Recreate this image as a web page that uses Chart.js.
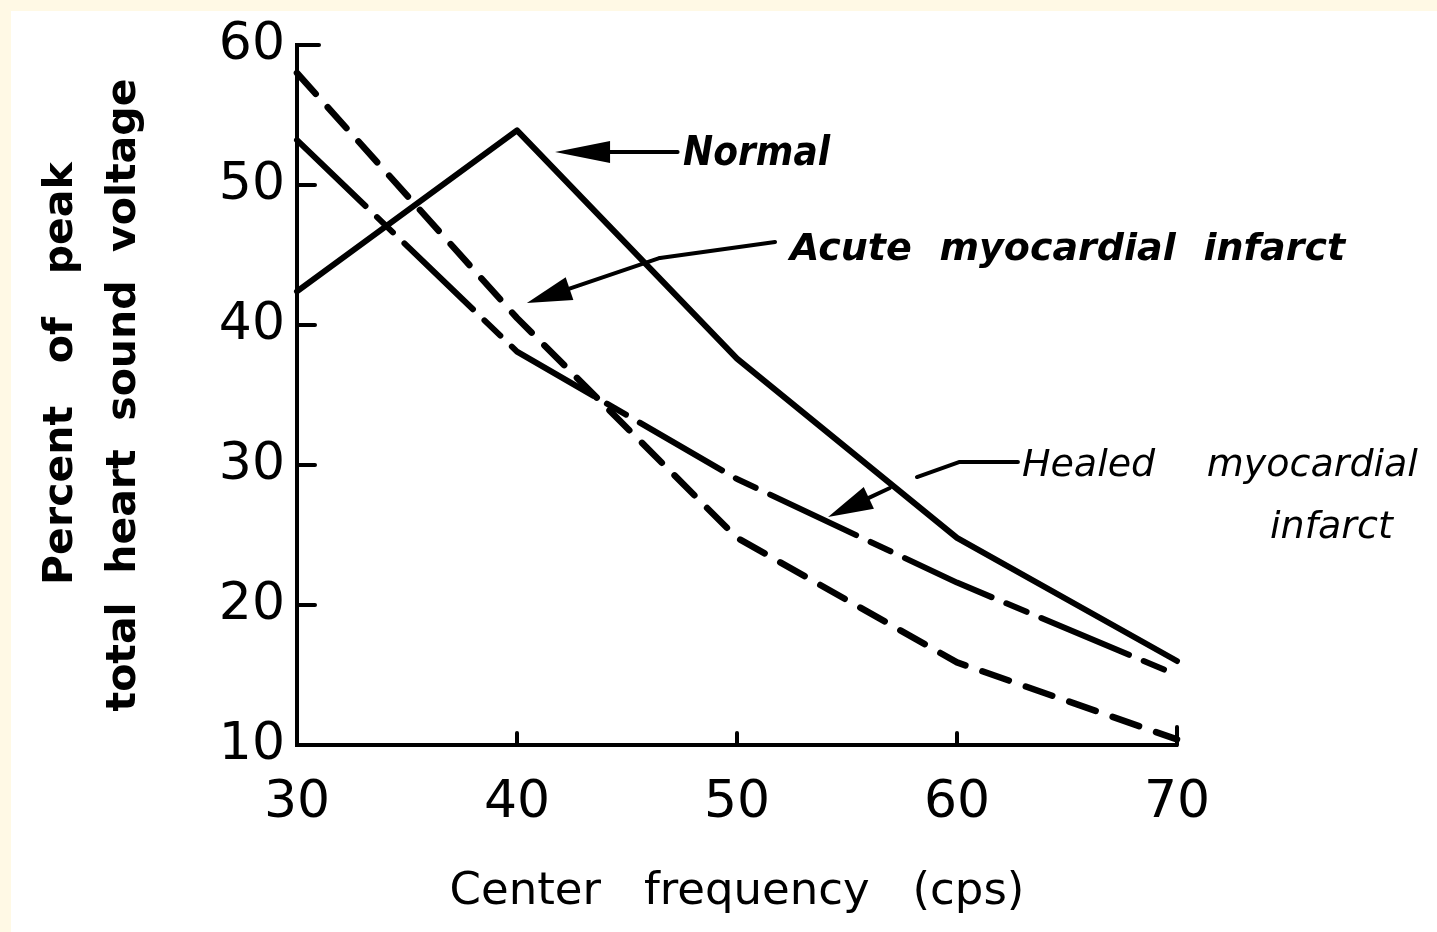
<!DOCTYPE html>
<html>
<head>
<meta charset="utf-8">
<script src="https://cdn.jsdelivr.net/npm/chart.js@4.4.1/dist/chart.umd.min.js"></script>
<style>
    html, body {
        margin: 0;
        padding: 0;
        background: #ffffff;
        width: 1437px;
        height: 932px;
        overflow: hidden;
    }
    .band-top {
        position: absolute;
        left: 0;
        top: 0;
        width: 1437px;
        height: 11px;
        background: #fff9e5;
    }
    .band-left {
        position: absolute;
        left: 0;
        top: 0;
        width: 11px;
        height: 932px;
        background: #fff9e5;
    }
    #wrap {
        position: absolute;
        left: 11px;
        top: 11px;
        right: 0;
        bottom: 0;
        background: #ffffff;
    }
</style>
</head>
<body>
<div class="band-top"></div>
<div class="band-left"></div>
<div id="wrap">
    <canvas id="freq-chart" width="1426" height="921"></canvas>
</div>
<script>
//DATOS
const frequencies = [30, 40, 50, 60, 70];
const normalValues = [42.4, 53.9, 37.6, 24.8, 16.0];
const acuteValues = [58.0, 40.5, 24.8, 15.9, 10.4];
const healedValues = [53.2, 38.1, 29.0, 21.6, 15.0];

const xTicks = [30, 40, 50, 60, 70];
const yTicks = [10, 20, 30, 40, 50, 60];

function toPoints(values) {
    return frequencies.map(function (f, i) {
        return { x: f, y: values[i] };
    });
}

//marcas hacia dentro en los ejes
const innerTicks = {
    id: 'innerTicks',
    afterDraw(chart) {
        const ctx = chart.ctx;
        const xs = chart.scales.x;
        const ys = chart.scales.y;
        const left = chart.chartArea.left;
        const bottom = chart.chartArea.bottom;

        ctx.save();
        ctx.strokeStyle = '#000';
        ctx.lineWidth = 4;
        ctx.lineCap = 'round';

        yTicks.forEach(function (v) {
            if (v === yTicks[0]) return;
            const y = ys.getPixelForValue(v);
            ctx.beginPath();
            ctx.moveTo(left, y);
            ctx.lineTo(left + (v === 60 ? 22 : 18), y);
            ctx.stroke();
        });

        xTicks.forEach(function (v) {
            if (v === xTicks[0]) return;
            const x = xs.getPixelForValue(v);
            ctx.beginPath();
            ctx.moveTo(x, bottom);
            ctx.lineTo(x, bottom - (v === 70 ? 18 : 12));
            ctx.stroke();
        });

        ctx.restore();
    }
};

function arrow(ctx, x0, y0, x1, y1, headLen, headHalf) {
    const ang = Math.atan2(y1 - y0, x1 - x0);
    const bx = x1 - headLen * Math.cos(ang);
    const by = y1 - headLen * Math.sin(ang);
    const nx = -Math.sin(ang) * headHalf;
    const ny = Math.cos(ang) * headHalf;

    ctx.beginPath();
    ctx.moveTo(x0, y0);
    ctx.lineTo(bx, by);
    ctx.stroke();

    ctx.beginPath();
    ctx.moveTo(x1, y1);
    ctx.lineTo(bx + nx, by + ny);
    ctx.lineTo(bx - nx, by - ny);
    ctx.closePath();
    ctx.fill();
}

//palabras repartidas entre dos posiciones
function spreadText(ctx, words, xStart, xEnd, y) {
    const widths = words.map(function (w) { return ctx.measureText(w).width; });
    const total = widths.reduce(function (a, b) { return a + b; }, 0);
    const gap = words.length > 1 ? (xEnd - xStart - total) / (words.length - 1) : 0;
    let x = xStart;
    words.forEach(function (w, i) {
        ctx.fillText(w, x, y);
        x += widths[i] + gap;
    });
}

//etiquetas con flechas
const curveLabels = {
    id: 'curveLabels',
    afterDatasetsDraw(chart) {
        const ctx = chart.ctx;
        const xs = chart.scales.x;
        const ys = chart.scales.y;
        const px = function (v) { return xs.getPixelForValue(v); };
        const py = function (v) { return ys.getPixelForValue(v); };

        ctx.save();
        ctx.fillStyle = '#000';
        ctx.strokeStyle = '#000';
        ctx.lineWidth = 4;
        ctx.lineCap = 'round';
        ctx.lineJoin = 'round';
        ctx.textBaseline = 'alphabetic';
        ctx.textAlign = 'left';

        // Normal
        arrow(ctx, px(47.3), py(52.36), px(41.73), py(52.36), 55, 11);
        ctx.font = 'italic bold 40px "DejaVu Sans"';
        ctx.fillText('Normal', px(47.55), py(51.43), 147);

        // Acute myocardial infarct
        ctx.beginPath();
        ctx.moveTo(px(51.73), py(45.93));
        ctx.lineTo(px(46.5), py(44.79));
        ctx.stroke();
        arrow(ctx, px(46.5), py(44.79), px(40.45), py(41.57), 45, 12);
        ctx.font = 'italic bold 38px "DejaVu Sans"';
        spreadText(ctx, ['Acute', 'myocardial', 'infarct'], px(52.41), px(77.64), py(44.64));

        // Healed myocardial infarct
        ctx.beginPath();
        ctx.moveTo(px(62.77), py(30.21));
        ctx.lineTo(px(60.09), py(30.21));
        ctx.lineTo(px(58.18), py(29.14));
        ctx.stroke();
        arrow(ctx, px(56.95), py(28.36), px(54.14), py(26.29), 45, 12);
        ctx.font = 'italic 38px "DejaVu Sans"';
        spreadText(ctx, ['Healed', 'myocardial'], px(62.95), px(80.95), py(29.21));
        spreadText(ctx, ['infarct'], px(74.23), px(80.95), py(24.79));

        ctx.restore();
    }
};

const ctx = document.getElementById('freq-chart');

new Chart(ctx, {
    type: 'line',

    data: {
        datasets: [
            {
                label: 'Normal',
                data: toPoints(normalValues),
                borderColor: '#000',
                borderWidth: 6,
                borderCapStyle: 'round',
                borderJoinStyle: 'round',
                pointRadius: 0,
                tension: 0,
                clip: false
            },
            {
                label: 'Acute myocardial infarct',
                data: toPoints(acuteValues),
                borderColor: '#000',
                borderWidth: 6.5,
                borderDash: [28, 18],
                borderCapStyle: 'round',
                borderJoinStyle: 'round',
                pointRadius: 0,
                tension: 0,
                clip: false
            },
            {
                label: 'Healed myocardial infarct',
                data: toPoints(healedValues),
                borderColor: '#000',
                borderWidth: 6,
                borderDash: [95, 16, 22, 16],
                borderCapStyle: 'round',
                borderJoinStyle: 'round',
                pointRadius: 0,
                tension: 0,
                clip: false
            }
        ]
    },

    options: {
        responsive: false,
        animation: false,
        devicePixelRatio: 1,

        layout: {
            padding: { top: 34, right: 260, bottom: 0, left: 0 }
        },

        plugins: {
            legend: { display: false },
            tooltip: { enabled: false }
        },

        scales: {
            x: {
                type: 'linear',
                min: 30,
                max: 70,
                afterFit(scale) {
                    scale.height = 187;
                    scale.paddingLeft = 0;
                    scale.paddingRight = 0;
                },
                afterBuildTicks(scale) {
                    scale.ticks = xTicks.map(function (v) { return { value: v }; });
                },
                grid: { display: true, drawOnChartArea: false, drawTicks: false },
                border: { display: true, color: '#000', width: 4 },
                ticks: {
                    color: '#000',
                    padding: 27,
                    font: { family: '"DejaVu Sans"', size: 52 }
                },
                title: {
                    display: true,
                    text: 'Center   frequency   (cps)',
                    color: '#000',
                    padding: { top: 0, bottom: 13 },
                    font: { family: '"DejaVu Sans"', size: 45 }
                }
            },
            y: {
                min: 10,
                max: 60,
                afterFit(scale) {
                    scale.width = 286;
                    scale.paddingTop = 0;
                    scale.paddingBottom = 0;
                },
                afterBuildTicks(scale) {
                    scale.ticks = yTicks.map(function (v) { return { value: v }; });
                },
                grid: { display: true, drawOnChartArea: false, drawTicks: false },
                border: { display: true, color: '#000', width: 4 },
                ticks: {
                    color: '#000',
                    padding: 12,
                    font: { family: '"DejaVu Sans"', size: 52 }
                },
                title: {
                    display: true,
                    text: ['   Percent   of   peak', 'total  heart  sound  voltage'],
                    color: '#000',
                    padding: { top: 19, bottom: 0 },
                    font: { family: '"DejaVu Sans"', size: 41, weight: 'bold', lineHeight: 1.54 }
                }
            }
        }
    },

    plugins: [innerTicks, curveLabels]
});
</script>
</body>
</html>
